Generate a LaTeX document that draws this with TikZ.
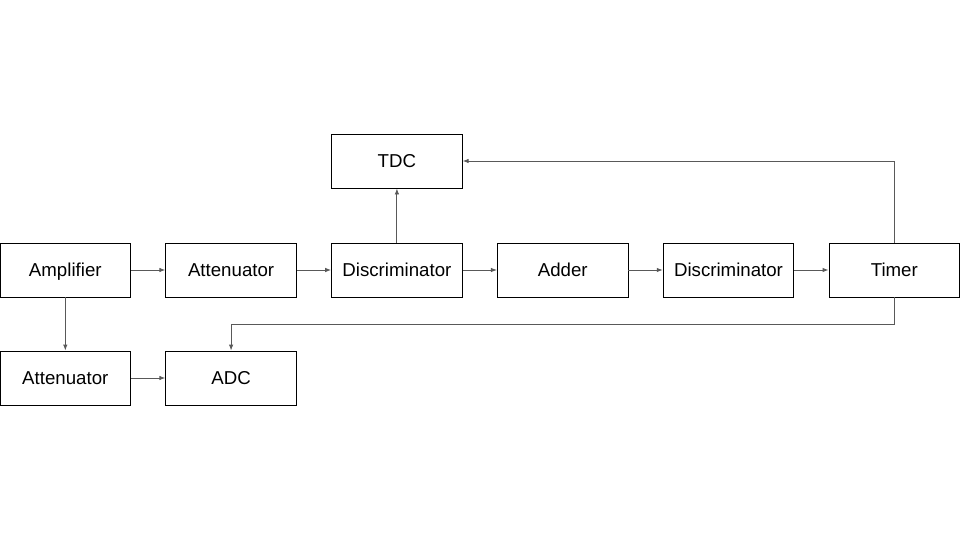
\documentclass[tikz,border=0pt]{standalone}
\usepackage{fontspec}
\setmainfont{Liberation Sans}
\usetikzlibrary{arrows.meta}
\begin{document}
\begin{tikzpicture}[x=1pt,y=-1pt,
  blk/.style={draw=black,line width=0.9pt,minimum width=130.6pt,minimum height=54pt,inner sep=0pt,text height=13.4pt,text depth=0pt,font=\fontsize{18.67pt}{22pt}\selectfont},
  conn/.style={draw=black!65,line width=0.9pt,-{Latex[length=6pt,width=4.5pt]}}]
\useasboundingbox (0,0) rectangle (960,540);
\node[blk] (amp) at (65.3,270) {Amplifier};
\node[blk] (att1) at (231.1,270) {Attenuator};
\node[blk] (disc1) at (396.9,270) {Discriminator};
\node[blk] (add) at (562.7,270) {Adder};
\node[blk] (disc2) at (728.5,270) {Discriminator};
\node[blk] (timer) at (894.3,270) {Timer};
\node[blk] (tdc) at (396.9,161) {TDC};
\node[blk] (att2) at (65.3,378) {Attenuator};
\node[blk] (adc) at (231.1,378) {ADC};
\draw[conn] (amp) -- (att1);
\draw[conn] (att1) -- (disc1);
\draw[conn] (disc1) -- (add);
\draw[conn] (add) -- (disc2);
\draw[conn] (disc2) -- (timer);
\draw[conn] (disc1) -- (tdc);
\draw[conn] (timer.north) |- (tdc.east);
\coordinate (c1) at (894.3,324);
\draw[conn] (timer.south) -- (c1) -| (adc.north);
\draw[conn] (amp) -- (att2);
\draw[conn] (att2) -- (adc);
\end{tikzpicture}
\end{document}
